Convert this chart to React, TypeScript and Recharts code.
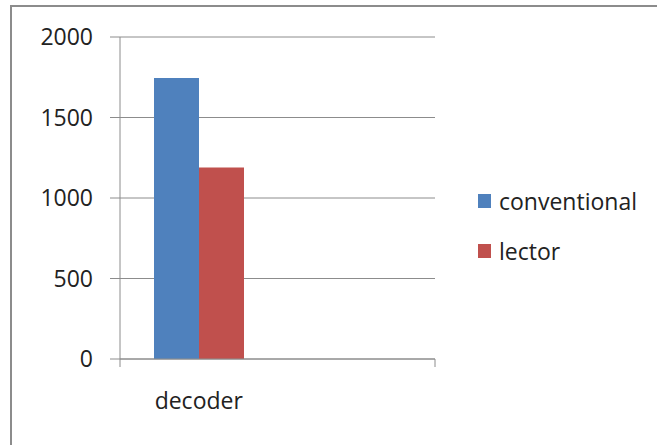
import { Bar, BarChart, CartesianGrid, Legend, XAxis, YAxis } from 'recharts';

const categories = ['decoder', ''];
const conventional = [1745, null];
const lector = [1190, null];
const yTicks = [0, 500, 1000, 1500, 2000];
const bandTicks = [0, 1, 2];

const seriesNames = { conventional: 'conventional', lector: 'lector' };
const colors = { conventional: '#4f81bd', lector: '#c0504d' };

const daten = categories.map((name, i) => ({
  name,
  conventional: conventional[i],
  lector: lector[i],
}));

const schrift = '"Open Sans", sans-serif';
const grau = '#8c8c8c';

function Legende() {
  const items = [
    { label: seriesNames.conventional, color: colors.conventional },
    { label: seriesNames.lector, color: colors.lector },
  ];
  return (
    <div style={{ fontFamily: schrift, fontSize: 23, color: '#222' }}>
      {items.map((it) => (
        <div key={it.label} style={{ display: 'flex', alignItems: 'center', height: 30, marginBottom: 20 }}>
          <span style={{ width: 13, height: 14, background: it.color, marginRight: 8, display: 'inline-block' }} />
          <span style={{ lineHeight: '30px' }}>{it.label}</span>
        </div>
      ))}
    </div>
  );
}

export default function App() {
  return (
    <div
      style={{
        position: 'absolute',
        left: 0,
        top: 0,
        width: 657,
        height: 445,
        overflow: 'hidden',
        background: '#fff',
      }}
    >
      <div
        style={{
          position: 'absolute',
          left: 10,
          top: 5,
          width: 700,
          height: 500,
          border: `2px solid ${grau}`,
        }}
      />
      <BarChart
        width={657}
        height={445}
        data={daten}
        margin={{ top: 37, right: 222, left: 10, bottom: 26 }}
        barGap={0}
        barSize={45}
        style={{ position: 'absolute', left: 0, top: 0 }}
      >
        <CartesianGrid xAxisId="cat" stroke={grau} vertical={false} />
        <XAxis
          xAxisId="band"
          type="number"
          domain={[0, 2]}
          ticks={bandTicks}
          interval={0}
          height={1}
          tickSize={8}
          tickFormatter={() => ''}
          stroke={grau}
          axisLine={{ stroke: grau }}
          tickLine={{ stroke: grau }}
        />
        <XAxis
          xAxisId="cat"
          dataKey="name"
          height={59}
          axisLine={false}
          tickLine={false}
          tickSize={0}
          tickMargin={33}
          tick={{ fill: '#222', fontSize: 23, fontFamily: schrift }}
        />
        <YAxis
          domain={[0, 2000]}
          ticks={yTicks}
          width={110}
          tickSize={10}
          tickMargin={17}
          interval={0}
          axisLine={{ stroke: grau }}
          tickLine={{ stroke: grau }}
          tick={{ fill: '#222', fontSize: 23, fontFamily: schrift }}
        />
        <Legend
          layout="horizontal"
          align="center"
          verticalAlign="middle"
          content={() => <Legende />}
          wrapperStyle={{ left: 478, top: 186, width: 175, height: 100 }}
        />
        <Bar
          xAxisId="cat"
          dataKey="conventional"
          name={seriesNames.conventional}
          fill={colors.conventional}
          isAnimationActive={false}
        />
        <Bar
          xAxisId="cat"
          dataKey="lector"
          name={seriesNames.lector}
          fill={colors.lector}
          isAnimationActive={false}
        />
      </BarChart>
    </div>
  );
}
